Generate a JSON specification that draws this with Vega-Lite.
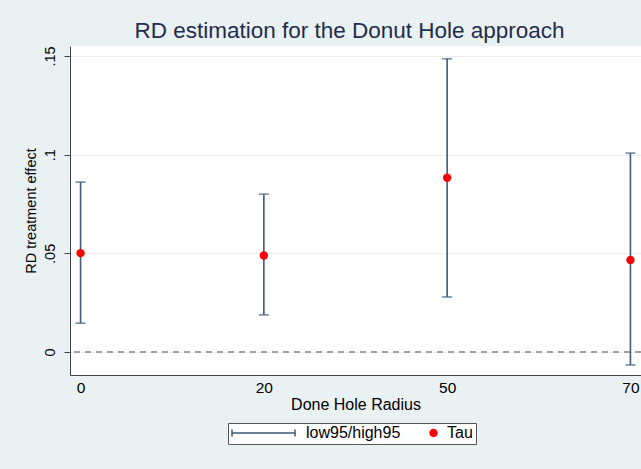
{
  "$schema": "https://vega.github.io/schema/vega-lite/v6.json",
  "width": 571,
  "height": 329,
  "autosize": {"type": "none"},
  "padding": {"left": 70, "top": 46, "right": 0, "bottom": 94},
  "background": "#EAF1F3",
  "title": {
    "text": "RD estimation for the Donut Hole approach",
    "font": "Liberation Sans",
    "fontSize": 22.5,
    "fontWeight": "normal",
    "color": "#1f2d4d",
    "anchor": "middle",
    "offset": 3,
    "dx": -6
  },
  "config": {
    "view": {"fill": "white", "stroke": null},
    "font": "Liberation Sans",
    "axis": {
      "labelFont": "Liberation Sans",
      "titleFont": "Liberation Sans",
      "labelColor": "#000000",
      "titleColor": "#000000",
      "titleFontWeight": "normal",
      "domainColor": "#444444",
      "tickColor": "#444444",
      "domainWidth": 1
    },
    "axisX": {
      "ticks": false,
      "grid": false,
      "labelAngle": 0,
      "labelFontSize": 15.5,
      "labelPadding": 5,
      "titleFontSize": 16,
      "titlePadding": 1
    },
    "axisY": {
      "grid": true,
      "gridColor": "#EEEEEE",
      "gridWidth": 1,
      "tickSize": 6,
      "labelAngle": -90,
      "labelAlign": "center",
      "labelBaseline": "bottom",
      "labelFontSize": 14.5,
      "labelPadding": 7,
      "titleFontSize": 14.5,
      "titlePadding": 4
    }
  },
  "data": {
    "values": [
      {"radius": 0, "tau": 0.0501, "low": 0.0146, "high": 0.0861},
      {"radius": 20, "tau": 0.0489, "low": 0.0188, "high": 0.0800},
      {"radius": 50, "tau": 0.0883, "low": 0.0279, "high": 0.1486},
      {"radius": 70, "tau": 0.0466, "low": -0.0066, "high": 0.1008}
    ]
  },
  "layer": [
    {
      "mark": {"type": "rule", "color": "#999999", "strokeDash": [6, 5], "strokeWidth": 1.2},
      "encoding": {
        "y": {
          "datum": 0,
          "type": "quantitative",
          "title": "RD treatment effect",
          "scale": {"domain": [-0.01166, 0.15507], "nice": false, "zero": false},
          "axis": {
            "values": [0, 0.05, 0.1, 0.15],
            "labelExpr": "datum.value == 0 ? '0' : replace(format(datum.value, '.2~f'), '0.', '.')"
          }
        }
      }
    },
    {
      "mark": {"type": "rule", "color": "#3d5a7a", "strokeWidth": 1.6},
      "encoding": {
        "x": {
          "field": "radius",
          "type": "ordinal",
          "title": "Done Hole Radius",
          "scale": {"type": "point", "padding": 0.0576}
        },
        "y": {"field": "low", "type": "quantitative", "title": "RD treatment effect"},
        "y2": {"field": "high"}
      }
    },
    {
      "mark": {"type": "tick", "orient": "horizontal", "color": "#3d5a7a", "size": 10, "thickness": 1.6},
      "encoding": {
        "x": {"field": "radius", "type": "ordinal", "title": "Done Hole Radius"},
        "y": {"field": "low", "type": "quantitative", "title": "RD treatment effect"}
      }
    },
    {
      "mark": {"type": "tick", "orient": "horizontal", "color": "#3d5a7a", "size": 10, "thickness": 1.6},
      "encoding": {
        "x": {"field": "radius", "type": "ordinal", "title": "Done Hole Radius"},
        "y": {"field": "high", "type": "quantitative", "title": "RD treatment effect"}
      }
    },
    {
      "mark": {"type": "point", "filled": true, "size": 70, "opacity": 1},
      "encoding": {
        "x": {"field": "radius", "type": "ordinal", "title": "Done Hole Radius"},
        "y": {"field": "tau", "type": "quantitative", "title": "RD treatment effect"},
        "color": {
          "datum": "Tau",
          "type": "nominal",
          "scale": {"domain": ["low95/high95", "Tau"], "range": ["#3d5a7a", "#ff0000"]},
          "legend": {
            "title": null,
            "orient": "none",
            "legendX": 158,
            "legendY": 377,
            "direction": "horizontal",
            "fillColor": "white",
            "strokeColor": "#555555",
            "padding": 3,
            "labelFont": "Liberation Sans",
            "labelFontSize": 16,
            "labelColor": "#000000",
            "labelOffset": {"expr": "datum.value === 'Tau' ? -19 : 10"},
            "columnPadding": 0,
            "clipHeight": 14,
            "symbolOpacity": 1,
            "symbolType": {"expr": "datum.value === 'Tau' ? 'M-0.133,0A0.133,0.133,0,1,0,0.133,0A0.133,0.133,0,1,0,-0.133,0Z' : 'M-1,-0.11V0.11M-1,0H1M1,-0.11V0.11'"},
            "symbolSize": 3969,
            "symbolStrokeColor": {"expr": "datum.value === 'Tau' ? 'transparent' : '#3d5a7a'"},
            "symbolStrokeWidth": 1.5
          }
        }
      }
    }
  ]
}
